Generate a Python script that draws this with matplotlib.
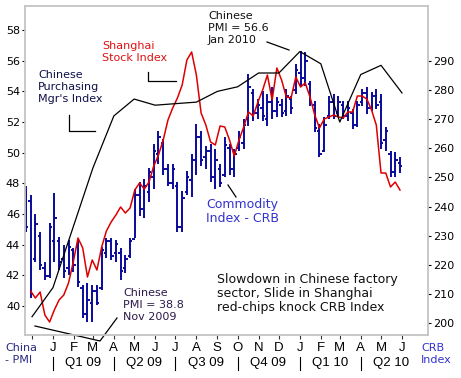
import matplotlib
matplotlib.use('Agg')
import matplotlib.pyplot as plt
import matplotlib.dates as mdates
from matplotlib.lines import Line2D
import pandas as pd

# Chinese purchasing managers index, monthly (left axis)
pmi_months = pd.date_range('2008-12-01', periods=19, freq='MS')
pmi = [39.3, 41.2, 45.3, 49.0, 52.4, 53.5, 53.1, 53.2, 53.3, 54.0,
       54.3, 55.2, 55.2, 56.6, 55.8, 52.0, 55.1, 55.7, 53.9]

# CRB index, weekly OHLC bars (right axis)
crb_high = [246.9, 244.1, 237.6, 231.4, 221.0, 234.5, 244.8, 229.7, 226.9, 228.6,
            225.9, 228.6, 213.1, 213.8, 213.1, 213.1, 226.2, 229.3, 229.3, 228.6,
            225.9, 223.4, 229.3, 245.9, 248.6, 249.3, 253.4, 261.4, 265.9, 263.1,
            254.5, 254.5, 248.6, 245.2, 252.1, 257.9, 268.3, 265.9, 260.7, 261.4,
            259.7, 254.5, 263.8, 261.4, 259.7, 265.9, 270.0, 285.5, 280.3, 276.9,
            279.7, 278.6, 281.0, 277.6, 276.9, 280.3, 277.9, 288.9, 293.4, 293.1,
            283.1, 276.2, 268.3, 270.7, 277.9, 278.6, 277.9, 276.2, 276.2, 273.4,
            276.2, 280.3, 281.0, 279.3, 280.3, 278.6, 267.2, 259.0, 258.6, 256.9]
crb_low = [231.4, 208.6, 221.0, 218.3, 214.8, 215.5, 221.0, 218.3, 215.5, 216.6,
           217.6, 212.4, 201.7, 200.3, 200.3, 206.2, 211.4, 222.4, 221.7, 221.0,
           214.8, 217.2, 222.4, 229.3, 236.6, 236.2, 241.4, 245.9, 254.5, 251.0,
           246.9, 245.9, 231.4, 231.4, 244.1, 243.4, 251.0, 253.8, 252.8, 248.6,
           245.9, 246.6, 250.3, 251.0, 250.3, 259.0, 259.7, 267.6, 269.3, 270.0,
           269.3, 267.6, 270.0, 270.7, 270.7, 271.0, 271.7, 278.6, 281.0, 281.4,
           274.5, 265.5, 256.9, 258.6, 270.0, 270.0, 271.0, 270.0, 269.3, 266.6,
           267.2, 274.5, 271.7, 272.8, 273.4, 259.7, 259.0, 250.3, 250.0, 251.7]
crb_open = [244, 242, 222, 230, 219, 216, 228, 228, 222, 219,
            225, 226, 212, 203, 207, 211, 212, 224, 228, 224,
            224, 219, 223, 229, 244, 239, 245, 250, 258, 262,
            253, 248, 247, 233, 245, 249, 256, 264, 257, 259,
            250, 253, 251, 260, 253, 260, 262, 270, 279, 272,
            274, 270, 276, 273, 275, 273, 277, 280, 286, 284,
            282, 275, 266, 259, 271, 276, 272, 275, 271, 272,
            268, 276, 279, 274, 278, 276, 263, 258, 252, 255]
crb_close = [233, 210, 234, 220, 216, 233, 236, 221, 218, 226,
             220, 214, 203, 208, 211, 207, 225, 228, 223, 227,
             218, 222, 228, 244, 239, 247, 252, 259, 264, 253,
             248, 253, 233, 243, 250, 256, 264, 256, 259, 250,
             256, 248, 261, 253, 258, 264, 268, 281, 272, 275,
             271, 276, 273, 276, 272, 278, 274, 287, 284, 290,
             276, 267, 258, 268, 276, 271, 276, 271, 274, 268,
             275, 279, 274, 278, 275, 262, 266, 252, 256, 254]
crb_weeks = pd.date_range('2008-11-22', periods=len(crb_high), freq='7D')

# Shanghai composite, weekly (no axis shown)
shanghai = [2036, 1994, 2030, 1892, 1850, 1922, 1982, 2012, 2084, 2210,
            2354, 2294, 2120, 2222, 2162, 2300, 2396, 2450, 2492, 2540,
            2504, 2534, 2642, 2684, 2648, 2690, 2786, 2852, 2942, 3062,
            3134, 3194, 3272, 3422, 3470, 3332, 3104, 3032, 2930, 2912,
            3026, 3020, 2942, 2846, 2942, 3020, 3110, 3086, 3170, 3242,
            3332, 3182, 3374, 3302, 3200, 3194, 3320, 3260, 3284, 3200,
            3092, 3014, 3068, 3080, 3092, 3080, 3074, 3110, 3110, 3206,
            3206, 3188, 3122, 3032, 2744, 2744, 2660, 2690, 2642]
sh_weeks = crb_weeks[-len(shanghai):]

month_ticks = pd.date_range('2008-12-01', '2010-06-01', freq='MS')
month_labels = [''] + [d.strftime('%b')[0] for d in month_ticks[1:]]
quarter_starts = pd.date_range('2009-01-01', periods=6, freq='QS')
quarter_labels = ['Q1 09', 'Q2 09', 'Q3 09', 'Q4 09', 'Q1 10', 'Q2 10']

W, H = 461, 378
fig = plt.figure(figsize=(W / 100, H / 100), dpi=100)
fig.patch.set_facecolor('white')
ax = fig.add_axes([25 / W, 1 - 335 / H, 403 / W, 329 / H])
ax2 = ax.twinx()
ax3 = ax.twinx()

def num(d):
    return mdates.date2num(pd.to_datetime(d).to_pydatetime())

xw = num(crb_weeks)
d0, d1 = num('2008-12-01'), num('2010-06-01')
ppd = 370 / (d1 - d0)
ax.set_xlim(d0 - 7 / ppd, d1 + 26 / ppd)

# CRB bars
blue = '#0a0a9c'
ax2.vlines(xw, crb_low, crb_high, color=blue, lw=1.4)
ax2.hlines(crb_open, xw - 3.5, xw, color=blue, lw=1.4)
ax2.hlines(crb_close, xw, xw + 3.5, color=blue, lw=1.4)
ax2.set_ylim(195.88, 308.9)
ax2.set_yticks(range(200, 300, 10))

# Shanghai
ax3.plot(num(sh_weeks), shanghai, color='#dd0000', lw=1.1)
ax3.set_ylim(1772, 3746)
ax3.set_yticks([])

# PMI
ax.plot(num(pmi_months), pmi, color='black', lw=0.9)
ax.set_ylim(38.11, 59.57)
ax.set_yticks(range(40, 59, 2))

ax.set_zorder(3)
ax.patch.set_visible(False)
ax3.set_zorder(2)
ax3.patch.set_visible(False)
ax2.set_zorder(1)
for a in (ax2, ax3):
    for s in a.spines.values():
        s.set_visible(False)
for s in ax.spines.values():
    s.set_color('#c4c4c4')
    s.set_linewidth(1.3)

ax.set_xticks(num(month_ticks))
ax.set_xticklabels(month_labels, fontfamily='Liberation Sans', fontsize=9.5)
ax.tick_params(axis='x', length=3, width=0.8, color='#333333', pad=2)
ax.tick_params(axis='y', length=2.5, width=0.8, color='black', pad=1, labelsize=8)
ax2.tick_params(axis='y', length=2.5, width=0.8, color='black', pad=1, labelsize=8)

# quarter row
for q in quarter_starts:
    ax.add_artist(Line2D([num(q)] * 2, [-0.067, -0.106], color='black', lw=0.8,
                         transform=ax.get_xaxis_transform(), clip_on=False))
for q, lab in zip(quarter_starts, quarter_labels):
    mid = num(q) + 45
    ax.text(mid, -0.085, lab, transform=ax.get_xaxis_transform(), ha='center',
            va='center', fontsize=9.5, fontfamily='Liberation Sans')

def px(x, y):
    return x / W, 1 - y / H

def note(x, y, s, color, size=8, ls=1.25):
    fig.text(*px(x, y), s, color=color, fontsize=size, va='top', ha='left',
             linespacing=ls)

def pointer(xs, ys):
    fig.add_artist(Line2D([x / W for x in xs], [1 - y / H for y in ys],
                          color='black', lw=0.9))

note(38, 70, "Chinese\nPurchasing\nMgr's Index", '#10104a')
pointer([69, 69, 95], [115, 131, 131])
note(102, 41, "Shanghai\nStock Index", '#dd1111')
pointer([148, 148, 176], [72, 81, 81])
note(208, 11, "Chinese\nPMI = 56.6\nJan 2010", '#111111')
pointer([267, 289], [42, 50])
note(206, 198, "Commodity\nIndex - CRB", '#3333cc', size=9, ls=1.1)
pointer([228, 236], [185, 197])
note(123, 288, "Chinese\nPMI = 38.8\nNov 2009", '#2b1a4a')
pointer([35, 100, 117], [326, 341, 318])
note(217, 273, "Slowdown in Chinese factory\nsector, Slide in Shanghai\nred-chips knock CRB Index",
     '#111111', size=9, ls=1.1)
note(5, 343, "China\n- PMI", '#2a2a80')
note(421, 343, "CRB\nIndex", '#3333cc')

fig.savefig('out.png', dpi=100)
